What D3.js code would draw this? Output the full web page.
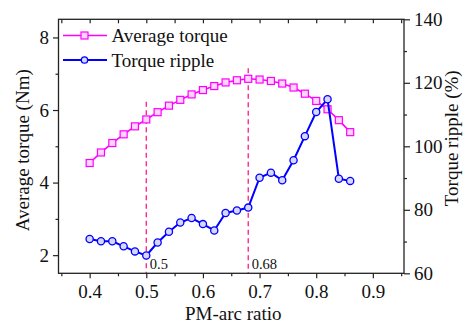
<!DOCTYPE html>
<html>
<head>
<meta charset="utf-8">
<script src="https://cdn.jsdelivr.net/npm/d3@7"></script>
<style>
  html, body { margin: 0; padding: 0; background: #fff; }
  svg { display: block; }
  text { font-family: "Liberation Serif", "Times New Roman", serif; fill: #111; }
</style>
</head>
<body>
<svg id="chart" width="474" height="325"></svg>
<script>
// ---------- data ----------
const pmArcRatio = [0.40,0.42,0.44,0.46,0.48,0.50,0.52,0.54,0.56,0.58,0.60,0.62,0.64,0.66,0.68,0.70,0.72,0.74,0.76,0.78,0.80,0.82,0.84,0.86];
const averageTorque = [4.54,4.83,5.09,5.33,5.55,5.74,5.94,6.12,6.28,6.43,6.55,6.66,6.76,6.82,6.86,6.84,6.80,6.73,6.62,6.45,6.25,6.02,5.72,5.39];
const torqueRipple = [70.8,70.1,70.1,68.5,66.9,65.6,69.7,73.1,76.0,77.4,75.5,73.5,79.0,79.8,80.7,90.1,91.7,89.3,95.6,103.2,110.8,114.8,89.8,89.1];
const markerX = [0.5, 0.68];
const markerTop = [6.23, 7.15];   // top of the dashed guide lines (left-axis units)
const markerLabels = ["0.5", "0.68"];
const xTicks = [0.4,0.5,0.6,0.7,0.8,0.9];
const xMinorTicks = [0.35,0.45,0.55,0.65,0.75,0.85,0.95];
const yLeftTicks = [2,4,6,8];
const yLeftMinor = [3,5,7];
const yRightTicks = [60,80,100,120,140];
const yRightMinor = [70,90,110,130];
const seriesNames = ["Average torque", "Torque ripple"];

// ---------- layout ----------
const L = 58.5, R = 404, T = 19.3, B = 273.3;
const svg = d3.select("#chart");

const x = d3.scaleLinear().domain([0.345, 0.955]).range([L, R]);
const yL = d3.scaleLinear().domain([1.5, 8.5]).range([B, T]);
const yR = d3.scaleLinear().domain([60, 140]).range([B, T]);

const magenta = "#ff00ff", blue = "#0000ff", guide = "#ff2a8f";
const fs = 19;

// guide lines
const g0 = svg.append("g");
markerX.forEach((v, i) => {
  g0.append("line")
    .attr("x1", x(v)).attr("x2", x(v))
    .attr("y1", yL(markerTop[i])).attr("y2", B)
    .attr("stroke", guide).attr("stroke-width", 1.4)
    .attr("stroke-dasharray", "5,3.5");
  g0.append("text")
    .attr("x", x(v) + 3.5).attr("y", B - 4)
    .attr("font-size", 14.5)
    .text(markerLabels[i]);
});

// axes
const axisColor = "#222";
function styleAxis(g) {
  g.select(".domain").remove();
  g.selectAll("line").attr("stroke", axisColor).attr("stroke-width", 1.2);
  g.selectAll("text").attr("font-size", fs).attr("fill", "#111")
    .style("font-family", '"Liberation Serif", "Times New Roman", serif');
}
// bottom
svg.append("g").attr("transform", `translate(0,${B})`)
  .call(d3.axisBottom(x).tickValues(xTicks).tickSize(5).tickPadding(6).tickFormat(d3.format(".1f")))
  .call(styleAxis);
svg.append("g").attr("transform", `translate(0,${B})`)
  .call(d3.axisBottom(x).tickValues(xMinorTicks).tickSize(3).tickFormat(""))
  .call(styleAxis);
// top (inward ticks)
svg.append("g").attr("transform", `translate(0,${T})`)
  .call(d3.axisBottom(x).tickValues(xTicks.concat(xMinorTicks)).tickSize(4).tickFormat(""))
  .call(styleAxis);
// left
svg.append("g").attr("transform", `translate(${L},0)`)
  .call(d3.axisLeft(yL).tickValues(yLeftTicks).tickSize(5.5).tickPadding(4).tickFormat(d3.format("d")))
  .call(styleAxis);
svg.append("g").attr("transform", `translate(${L},0)`)
  .call(d3.axisLeft(yL).tickValues(yLeftMinor).tickSize(3).tickFormat(""))
  .call(styleAxis);
// right
svg.append("g").attr("transform", `translate(${R},0)`)
  .call(d3.axisRight(yR).tickValues(yRightTicks).tickSize(6).tickPadding(4).tickFormat(d3.format("d")))
  .call(styleAxis);
svg.append("g").attr("transform", `translate(${R},0)`)
  .call(d3.axisRight(yR).tickValues(yRightMinor).tickSize(3).tickFormat(""))
  .call(styleAxis);

// frame
svg.append("rect").attr("x", L).attr("y", T).attr("width", R - L).attr("height", B - T)
  .attr("fill", "none").attr("stroke", axisColor).attr("stroke-width", 1.3);

// axis titles
svg.append("text").attr("x", (L + R) / 2 + 2).attr("y", 320)
  .attr("text-anchor", "middle").attr("font-size", fs).text("PM-arc ratio");
svg.append("text").attr("transform", `translate(29,${(T + B) / 2 + 4}) rotate(-90)`)
  .attr("text-anchor", "middle").attr("font-size", fs).text("Average torque (Nm)");
svg.append("text").attr("transform", `translate(458,${(T + B) / 2 - 8}) rotate(-90)`)
  .attr("text-anchor", "middle").attr("font-size", fs).text("Torque ripple (%)");

// series
const lineT = d3.line().x((d, i) => x(pmArcRatio[i])).y(d => yL(d));
const lineR = d3.line().x((d, i) => x(pmArcRatio[i])).y(d => yR(d));

svg.append("path").datum(averageTorque).attr("d", lineT)
  .attr("fill", "none").attr("stroke", magenta).attr("stroke-width", 1.6);
svg.append("g").selectAll("rect").data(averageTorque).join("rect")
  .attr("x", (d, i) => x(pmArcRatio[i]) - 3.5).attr("y", d => yL(d) - 3.5)
  .attr("width", 7).attr("height", 7)
  .attr("fill", "#ffd6ff").attr("stroke", magenta).attr("stroke-width", 1.2);

svg.append("path").datum(torqueRipple).attr("d", lineR)
  .attr("fill", "none").attr("stroke", blue).attr("stroke-width", 2);
svg.append("g").selectAll("circle").data(torqueRipple).join("circle")
  .attr("cx", (d, i) => x(pmArcRatio[i])).attr("cy", d => yR(d))
  .attr("r", 3.6)
  .attr("fill", "#d6d6ff").attr("stroke", blue).attr("stroke-width", 1.3);

// legend
const lg = svg.append("g");
const legY = [35.5, 60];
seriesNames.forEach((name, i) => {
  const col = i === 0 ? magenta : blue;
  lg.append("line").attr("x1", 63).attr("x2", 107).attr("y1", legY[i]).attr("y2", legY[i])
    .attr("stroke", col).attr("stroke-width", i === 0 ? 1.6 : 2);
  if (i === 0) {
    lg.append("rect").attr("x", 84.5 - 3.5).attr("y", legY[i] - 3.5).attr("width", 7).attr("height", 7)
      .attr("fill", "#ffd6ff").attr("stroke", magenta).attr("stroke-width", 1.2);
  } else {
    lg.append("circle").attr("cx", 84.5).attr("cy", legY[i]).attr("r", 3.2)
      .attr("fill", "#d6d6ff").attr("stroke", blue).attr("stroke-width", 1.3);
  }
  lg.append("text").attr("x", 111.5).attr("y", legY[i] + 6.5).attr("font-size", fs).text(name);
});
</script>
</body>
</html>
